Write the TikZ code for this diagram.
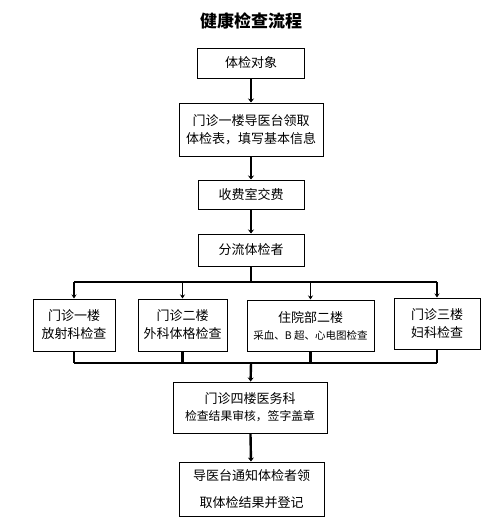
\documentclass[tikz,border=0pt]{standalone}
\usepackage{fontspec}
\setmainfont{Noto Sans CJK SC}
\usetikzlibrary{arrows.meta}

\begin{document}
\begin{tikzpicture}[x=1pt, y=-1pt, every node/.style={font=\fontsize{13}{18}\selectfont},
  box/.style={draw, line width=1pt, align=center, inner sep=0pt},
  trunk/.style={line width=2.4pt},
  link/.style={line width=2.4pt, -{Stealth[length=4pt,width=6pt]}},
  drop/.style={line width=1.4pt, -{Stealth[length=4pt,width=5pt]}}]
  \useasboundingbox (0,0) rectangle (500,530);
  \node (title) at (251,21) {\bfseries\fontsize{17}{20}\selectfont 健康检查流程};
  % main column
  \node[box, minimum width=107pt, minimum height=30pt] (duixiang) at (251,63) {体检对象};
  \node[box, minimum width=144pt, minimum height=53pt] (daoyi) at (251,129.5) {门诊一楼导医台领取\\体检表，填写基本信息};
  \node[box, minimum width=106pt, minimum height=29pt] (shoufei) at (251,194.5) {收费室交费};
  \node[box, minimum width=106pt, minimum height=32pt] (fenliu) at (251,250) {分流体检者};
  % four checks
  \node[box, minimum width=82pt, minimum height=52pt] (yilou) at (74,325) {门诊一楼\\放射科检查};
  \node[box, minimum width=89pt, minimum height=52pt] (erlou) at (182.5,325) {门诊二楼\\外科体格检查};
  \node[box, minimum width=127pt, minimum height=51pt] (zhuyuan) at (310.5,325.5) {住院部二楼\\[-1pt]{\fontsize{10.5}{14}\selectfont 采血、B 超、心电图检查}};
  \node[box, minimum width=86pt, minimum height=51pt] (sanlou) at (437,323.5) {门诊三楼\\妇科检查};
  % after checks
  \node[box, minimum width=154pt, minimum height=51pt] (yiwu) at (250,407.5) {门诊四楼医务科\\[-1pt]{\fontsize{11.8}{16}\selectfont 检查结果审核，签字盖章}};
  \node[box, minimum width=145pt, minimum height=54pt, font=\fontsize{13}{27}\selectfont] (lingqu) at (251.5,489) {导医台通知体检者领\\取体检结果并登记};
  \coordinate (split) at (251,282);
  \coordinate (merge) at (251,363);

  \draw[link] (duixiang) -- (daoyi);
  \draw[link] (daoyi) -- (shoufei);
  \draw[link] (shoufei) -- (fenliu);
  \draw[trunk] (fenliu.south) -- (split);
  \draw[trunk] (yilou.north |- split) -- (sanlou.north |- split);
  \foreach \n in {yilou, erlou, zhuyuan, sanlou}
    \draw[drop] (\n.north |- split) -- (\n);
  \foreach \n in {yilou, erlou, zhuyuan, sanlou}
    \draw[trunk] (\n.south) -- (\n.south |- merge);
  \draw[trunk] (yilou.south |- merge) -- (sanlou.south |- merge);
  \draw[link] (merge) -- (yiwu);
  \draw[link] (yiwu) -- (lingqu);
\end{tikzpicture}
\end{document}
